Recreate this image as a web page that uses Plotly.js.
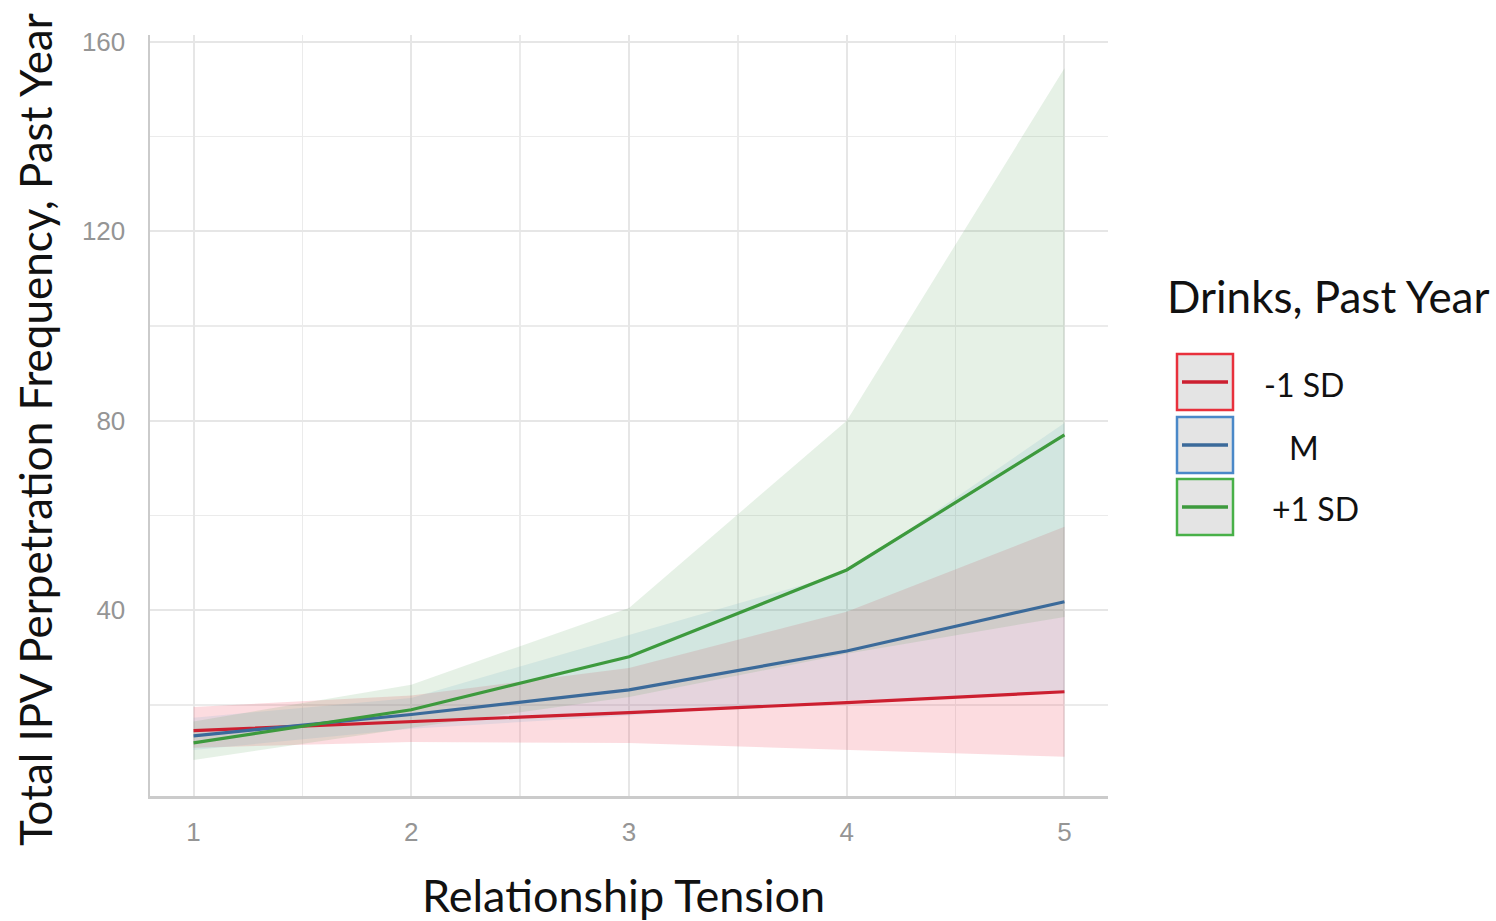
<!DOCTYPE html>
<html>
<head>
<meta charset="utf-8">
<script src="https://cdn.plot.ly/plotly-3.0.1.min.js"></script>
<style>html,body{margin:0;padding:0;background:#fff;}#chart{width:1496px;height:921px;}</style>
</head>
<body>
<div id="chart"></div>
<script>
// ---- data ----
const tension = [1, 2, 3, 4, 5];
const groups = ["-1 SD", "M", "+1 SD"];

const lowMean  = [14.6, 16.5, 18.4, 20.5, 22.8];
const lowLower = [11.0, 12.2, 12.0, 10.5, 9.1];
const lowUpper = [19.6, 22.0, 27.8, 39.7, 57.6];

const midMean  = [13.5, 18.0, 23.2, 31.4, 41.8];
const midLower = [10.5, 15.0, 17.8, 21.0, 22.5];
const midUpper = [17.3, 21.5, 34.8, 48.0, 79.5];

const highMean  = [12.0, 19.0, 30.2, 48.5, 77.0];
const highLower = [8.4, 15.2, 21.7, 30.8, 38.6];
const highUpper = [16.5, 24.3, 40.5, 80.0, 154.4];

const yTicks = [40, 80, 120, 160];
const xTicks = [1, 2, 3, 4, 5];

// ---- styles ----
const lineColors = ["#cc1f30", "#3b6a9a", "#3d9a3d"];
const fillColors = ["rgba(240,50,70,0.17)", "rgba(100,170,210,0.15)", "rgba(88,162,88,0.15)"];
const keyBorders = ["#e8303c", "#4a88c8", "#48b048"];

const means = [lowMean, midMean, highMean];
const lowers = [lowLower, midLower, highLower];
const uppers = [lowUpper, midUpper, highUpper];

const traces = [];
// ribbons in group order (red, blue, green), then lines on top
[0, 1, 2].forEach(i => {
  traces.push({x: tension, y: lowers[i], mode: 'lines', line: {width: 0}, hoverinfo: 'skip', showlegend: false});
  traces.push({x: tension, y: uppers[i], mode: 'lines', line: {width: 0}, fill: 'tonexty', fillcolor: fillColors[i], showlegend: false, name: groups[i]});
});
[0, 1, 2].forEach(i => {
  traces.push({x: tension, y: means[i], mode: 'lines', line: {color: lineColors[i], width: 3.2}, name: groups[i], showlegend: false});
});

// plot area in pixels
const L = 150, R = 1108, T = 35, B = 796, W = 1496, H = 921;
const px = v => (v - L) / (R - L);
const py = v => (B - v) / (B - T);

const shapes = [];
const annotations = [];
const keyTops = [354, 417, 479];
const labelX = [1262, 1287, 1270];
groups.forEach((g, i) => {
  const top = keyTops[i], bot = top + 56;
  shapes.push({type: 'rect', xref: 'paper', yref: 'paper', x0: px(1177), x1: px(1233), y0: py(bot), y1: py(top),
    fillcolor: '#e4e4e4', line: {color: keyBorders[i], width: 2.5}});
  shapes.push({type: 'line', xref: 'paper', yref: 'paper', x0: px(1182), x1: px(1228), y0: py((top + bot) / 2), y1: py((top + bot) / 2),
    line: {color: lineColors[i], width: 3.5}});
  annotations.push({xref: 'paper', yref: 'paper', x: px(labelX[i]), y: py((top + bot) / 2 + 2), xanchor: 'left', yanchor: 'middle',
    text: g, showarrow: false, font: {family: 'Lato, sans-serif', size: 32, color: '#111'}});
});
annotations.push({xref: 'paper', yref: 'paper', x: px(1165), y: py(296), xanchor: 'left', yanchor: 'middle',
  text: 'Drinks, Past Year', showarrow: false, font: {family: 'Lato, sans-serif', size: 44, color: '#111'}});
// y-axis title placed precisely
annotations.push({xref: 'paper', yref: 'paper', x: px(35), y: py(430), xanchor: 'center', yanchor: 'middle', textangle: -90,
  text: 'Total IPV Perpetration Frequency, Past Year', showarrow: false, font: {family: 'Lato, sans-serif', size: 44, color: '#111'}});
// x-axis title
annotations.push({xref: 'paper', yref: 'paper', x: px(623), y: py(895), xanchor: 'center', yanchor: 'middle',
  text: 'Relationship Tension', showarrow: false, font: {family: 'Lato, sans-serif', size: 45, color: '#111'}});

const layout = {
  width: W, height: H,
  margin: {l: L, r: W - R, t: T, b: H - B, pad: 0},
  paper_bgcolor: '#fff', plot_bgcolor: '#fff',
  showlegend: false,
  xaxis: {
    range: [0.8, 5.2], tickvals: xTicks, ticktext: xTicks.map(String),
    showgrid: true, gridcolor: '#e6e6e6', gridwidth: 2,
    minor: {dtick: 0.5, showgrid: true, gridcolor: '#ebebeb', gridwidth: 1.8},
    showline: true, linecolor: '#cbcbcb', linewidth: 2.5,
    zeroline: false, ticks: '', ticklabelstandoff: 11,
    tickfont: {family: 'Liberation Sans, Arial, sans-serif', size: 26, color: '#959595'},
    automargin: false
  },
  yaxis: {
    range: [0.8, 161.4], tickvals: yTicks, ticktext: yTicks.map(String),
    showgrid: true, gridcolor: '#e6e6e6', gridwidth: 2,
    minor: {tickvals: [20, 60, 100, 140], showgrid: true, gridcolor: '#ebebeb', gridwidth: 1.8},
    showline: true, linecolor: '#cbcbcb', linewidth: 2.5,
    zeroline: false, ticks: '', ticklabelstandoff: 17,
    tickfont: {family: 'Liberation Sans, Arial, sans-serif', size: 26, color: '#959595'},
    automargin: false
  },
  shapes: shapes,
  annotations: annotations
};

Plotly.newPlot('chart', traces, layout, {displayModeBar: false, staticPlot: true});
</script>
</body>
</html>
